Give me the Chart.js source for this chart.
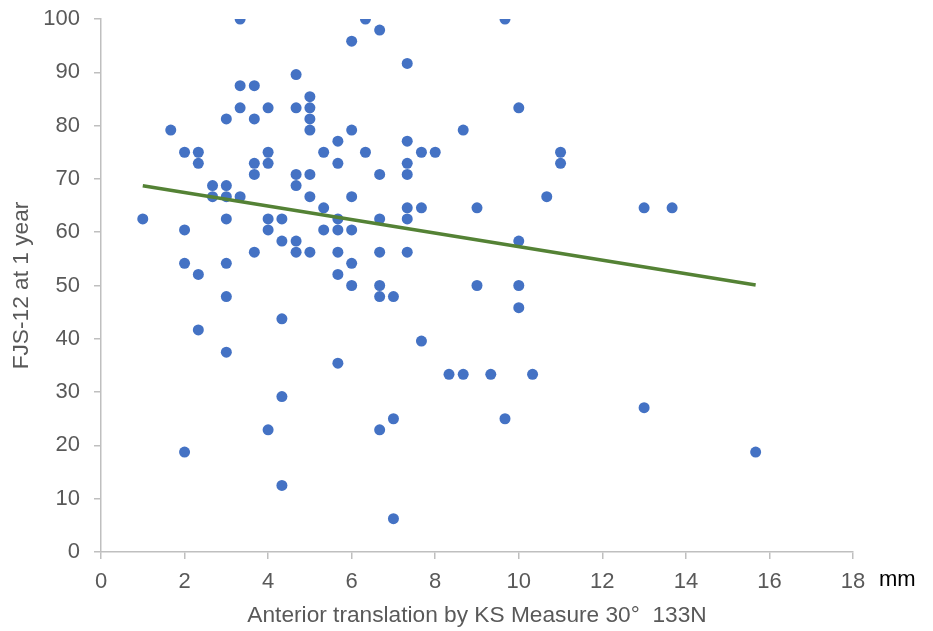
<!DOCTYPE html>
<html>
<head>
<meta charset="utf-8">
<script src="https://cdn.jsdelivr.net/npm/chart.js@4/dist/chart.umd.min.js"></script>
<style>
    html, body { margin: 0; padding: 0; background: #ffffff; }
    #wrap { width: 933px; height: 631px; }
</style>
</head>
<body>
<div id="wrap"><canvas id="scatter"></canvas></div>
<script>
"use strict";

// anterior translation (mm)
const transX = [
    1, 1.67, 2, 2, 2, 2, 2.33, 2.33, 2.33, 2.33,
    2.67, 2.67, 3, 3, 3, 3, 3, 3, 3, 3.33,
    3.33, 3.33, 3.33, 3.67, 3.67, 3.67, 3.67, 3.67, 4, 4,
    4, 4, 4, 4, 4.33, 4.33, 4.33, 4.33, 4.33, 4.67,
    4.67, 4.67, 4.67, 4.67, 4.67, 5, 5, 5, 5, 5,
    5, 5, 5.33, 5.33, 5.33, 5.67, 5.67, 5.67, 5.67, 5.67,
    5.67, 5.67, 6, 6, 6, 6, 6, 6, 6.33, 6.33,
    6.67, 6.67, 6.67, 6.67, 6.67, 6.67, 6.67, 7, 7, 7,
    7.33, 7.33, 7.33, 7.33, 7.33, 7.33, 7.33, 7.67, 7.67, 7.67,
    8, 8.33, 8.67, 8.67, 9, 9, 9.33, 9.67, 9.67, 10,
    10, 10, 10, 10.33, 10.67, 11, 11, 13, 13, 13.67,
    15.67
];

// FJS-12 score at 1 year, same order
const fjsY = [
    62.5, 79.17, 75, 60.42, 54.17, 18.75, 75, 72.92, 52.08, 41.67,
    68.75, 66.67, 81.25, 68.75, 66.67, 62.5, 54.17, 47.92, 37.5, 100,
    87.5, 83.33, 66.67, 87.5, 81.25, 72.92, 70.83, 56.25, 83.33, 75,
    72.92, 62.5, 60.42, 22.92, 62.5, 58.33, 43.75, 29.17, 12.5, 89.58,
    83.33, 70.83, 68.75, 58.33, 56.25, 85.42, 83.33, 81.25, 79.17, 70.83,
    66.67, 56.25, 75, 64.58, 60.42, 77.08, 72.92, 62.5, 60.42, 56.25,
    52.08, 35.42, 95.83, 79.17, 66.67, 60.42, 54.17, 50, 100, 75,
    97.92, 70.83, 62.5, 56.25, 50, 47.92, 22.92, 47.92, 25, 6.25,
    91.67, 77.08, 72.92, 70.83, 64.58, 62.5, 56.25, 75, 64.58, 39.58,
    75, 33.33, 79.17, 33.33, 64.58, 50, 33.33, 100, 25, 83.33,
    58.33, 50, 45.83, 33.33, 66.67, 75, 72.92, 64.58, 27.08, 64.58,
    18.75
];

// linear trend line end points, as drawn
const trendX = [1, 15.67];
const trendY = [68.7, 50.1];

const xTicks = [0, 2, 4, 6, 8, 10, 12, 14, 16, 18];
const yTicks = [0, 10, 20, 30, 40, 50, 60, 70, 80, 90, 100];

const unitLabel = "mm";
const xTitle = "Anterior translation by KS Measure 30°\u00a0\u00a0133N";
const yTitle = "FJS-12 at 1 year";

const FONT = "'Liberation Sans', Arial, sans-serif";
const GREY_TEXT = "#595959";
const AXIS_GREY = "#bfbfbf";
const TICK_LEN = 7;
const X_TICK_PAD = 10;
const TICK_SIZE = 22;
const TITLE_SIZE = 22.7;

function toPoints(xs, ys)
{
    const pts = [];
    for (let i = 0; i < xs.length; i++)
        pts.push({x: xs[i], y: ys[i]});
    return pts;
}

// draws the "mm" unit after the last x tick label
const unitPlugin = {
    id: "unitLabel",
    afterDraw(chart) {
        const ctx = chart.ctx;
        const xs = chart.scales.x;
        ctx.save();
        ctx.font = TICK_SIZE + "px " + FONT;
        ctx.fillStyle = "#000000";
        ctx.textBaseline = "top";
        ctx.textAlign = "left";
        ctx.fillText(unitLabel, xs.getPixelForValue(18) + 26, chart.chartArea.bottom + TICK_LEN + X_TICK_PAD);
        ctx.restore();
    }
};

const chart = new Chart("scatter", {
    type: "scatter",
    data: {
        datasets: [
            {
                type: "line",
                label: "trend",
                data: toPoints(trendX, trendY),
                borderColor: "#548235",
                borderWidth: 3.5,
                pointRadius: 0,
                fill: false
            },
            {
                label: "patients",
                data: toPoints(transX, fjsY),
                backgroundColor: "#4472C4",
                borderColor: "#4472C4",
                borderWidth: 0,
                pointRadius: 5.5,
                pointHoverRadius: 5.5
            }
        ]
    },
    options: {
        responsive: true,
        maintainAspectRatio: false,
        animation: false,
        layout: {padding: {left: 0, top: 19, right: 80, bottom: 0}},
        plugins: {
            legend: {display: false},
            tooltip: {enabled: false}
        },
        scales: {
            x: {
                type: "linear",
                min: 0,
                max: 18,
                afterBuildTicks: (scale) => { scale.ticks = xTicks.map(v => ({value: v})); },
                afterFit: (scale) => {
                    scale.height = 79;
                    scale.paddingLeft = 0;
                    scale.paddingRight = 0;
                },
                border: {display: true, color: AXIS_GREY, width: 1.5},
                grid: {drawOnChartArea: false, drawTicks: true, tickLength: TICK_LEN, color: AXIS_GREY, lineWidth: 1.5},
                ticks: {color: GREY_TEXT, font: {family: FONT, size: TICK_SIZE}, padding: X_TICK_PAD, maxRotation: 0},
                title: {display: true, text: xTitle, color: GREY_TEXT, font: {family: FONT, size: TITLE_SIZE}, padding: {top: 4, bottom: 2}}
            },
            y: {
                type: "linear",
                min: 0,
                max: 100,
                afterBuildTicks: (scale) => { scale.ticks = yTicks.map(v => ({value: v})); },
                afterFit: (scale) => {
                    scale.width = 101;
                    scale.paddingTop = 0;
                    scale.paddingBottom = 0;
                },
                border: {display: true, color: AXIS_GREY, width: 1.5},
                grid: {drawOnChartArea: false, drawTicks: true, tickLength: TICK_LEN, color: AXIS_GREY, lineWidth: 1.5},
                ticks: {color: GREY_TEXT, font: {family: FONT, size: TICK_SIZE}, padding: 14},
                title: {display: true, text: yTitle, color: GREY_TEXT, font: {family: FONT, size: TITLE_SIZE}, padding: {top: 8, bottom: 4}}
            }
        }
    },
    plugins: [unitPlugin]
});
</script>
</body>
</html>
